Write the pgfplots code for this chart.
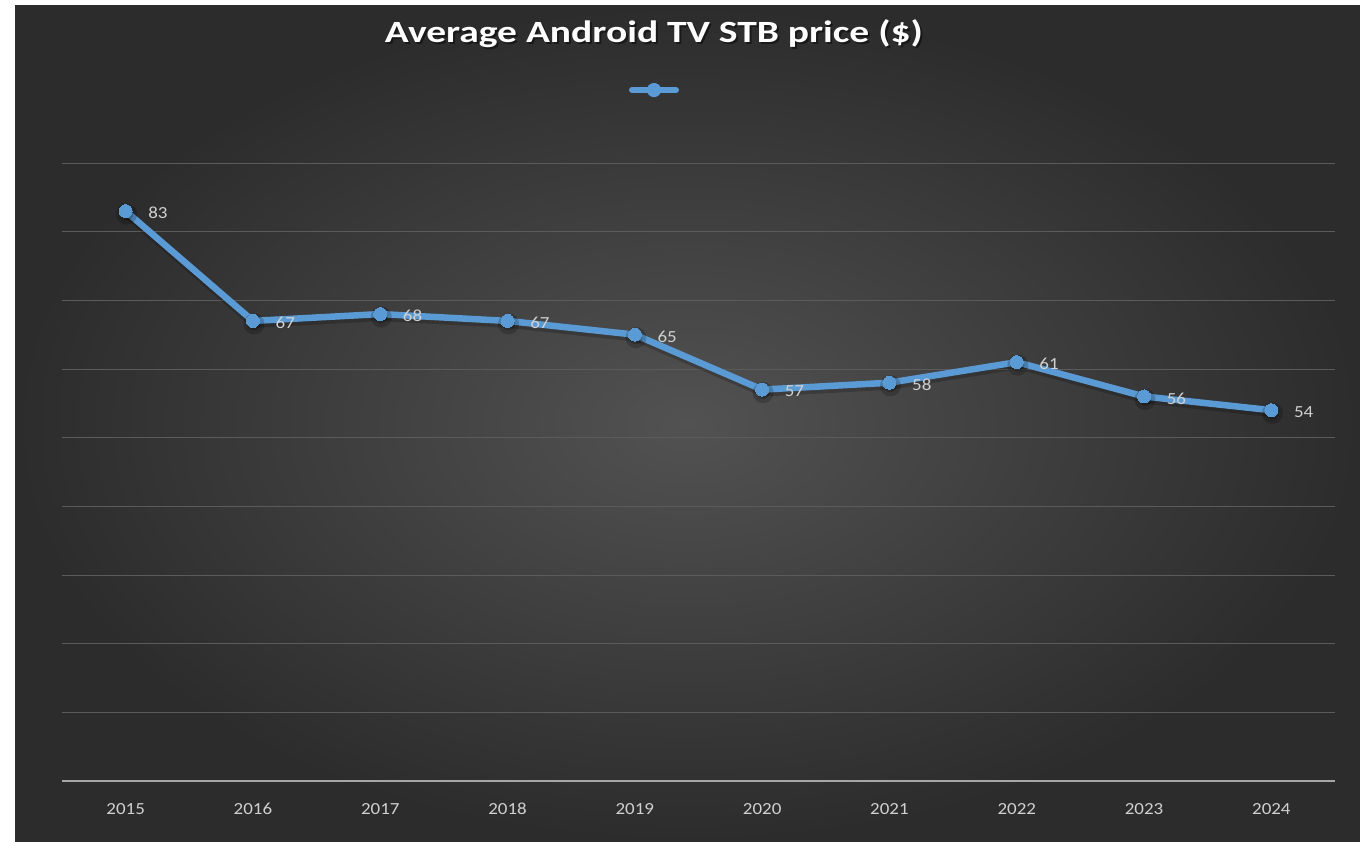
\documentclass[border=0pt]{standalone}
\usepackage{pgfplots}
\pgfplotsset{compat=1.18}
\usepackage{fontspec}
\setmainfont{Carlito}
\definecolor{lineblue}{HTML}{5B9BD5}
\definecolor{gridc}{HTML}{5B5B5B}
\definecolor{axisc}{HTML}{A6A6A6}
\definecolor{labc}{HTML}{D0D0D0}
\definecolor{bgin}{HTML}{525252}
\definecolor{bgout}{HTML}{2C2C2C}
\begin{document}
\begin{tikzpicture}[x=1bp,y=1bp]
\useasboundingbox (0bp,0bp) rectangle (1360bp,842bp);
\fill[white] (0bp,0bp) rectangle (1360bp,842bp);
\shade[inner color=bgin, outer color=bgout] (15bp,0bp) rectangle (1360bp,836bp);
\node[font=\fontsize{31}{36}\selectfont\bfseries, text=black, opacity=0.45, xscale=1.28] at (656bp,806.5bp) {Average Android TV STB price (\$)};
\node[font=\fontsize{31}{36}\selectfont\bfseries, text=white, xscale=1.28] at (654bp,808bp) {Average Android TV STB price (\$)};
\begin{axis}[
  at={(62bp,61bp)}, anchor=south west,
  width=1273bp, height=618bp, scale only axis,
  xmin=-0.5, xmax=9.5, ymin=0, ymax=90,
  xtick={0,...,9},
  xticklabels={2015,2016,2017,2018,2019,2020,2021,2022,2023,2024},
  ytick={0,10,...,90}, yticklabels={},
  ymajorgrids, grid style={gridc, line width=0.8bp},
  axis x line*=bottom, axis y line*=left,
  y axis line style={draw=none},
  x axis line style={axisc, line width=2bp, -},
  major tick length=0pt,
  typeset ticklabels with strut,
  xticklabel style={font=\fontsize{17}{20}\selectfont, text=labc, yshift=-16bp, xscale=1.12},
  /pgf/number format/assume math mode=true,
  legend style={at={(0.4666,1.118)}, anchor=center, draw=none, fill=none},
  legend image code/.code={
    \draw[lineblue, line width=6bp, line cap=round] (0bp,0bp) -- (44bp,0bp);
    \fill[lineblue] (22bp,0bp) circle (4bp);
  },
  clip=false,
]
\addplot[black, opacity=0.2, line width=8bp, xshift=1bp, yshift=-3bp, forget plot, line join=round,
  mark=*, mark size=6.5bp, mark options={black, opacity=0.2}]
  coordinates {(0,83) (1,67) (2,68) (3,67) (4,65) (5,57) (6,58) (7,61) (8,56) (9,54)};
\addplot[lineblue, line width=6.5bp, line join=round, mark=*, mark size=6.5bp, mark options={fill=lineblue, draw=lineblue, line width=0pt},
  nodes near coords, point meta=explicit,
  every node near coord/.style={anchor=west, xshift=19bp, yshift=-2bp, font=\fontsize{17}{20}\selectfont, text=labc, xscale=1.12}]
  coordinates {(0,83)[83] (1,67)[67] (2,68)[68] (3,67)[67] (4,65)[65] (5,57)[57] (6,58)[58] (7,61)[61] (8,56)[56] (9,54)[54]};
\addlegendentry{}
\end{axis}
\end{tikzpicture}
\end{document}
